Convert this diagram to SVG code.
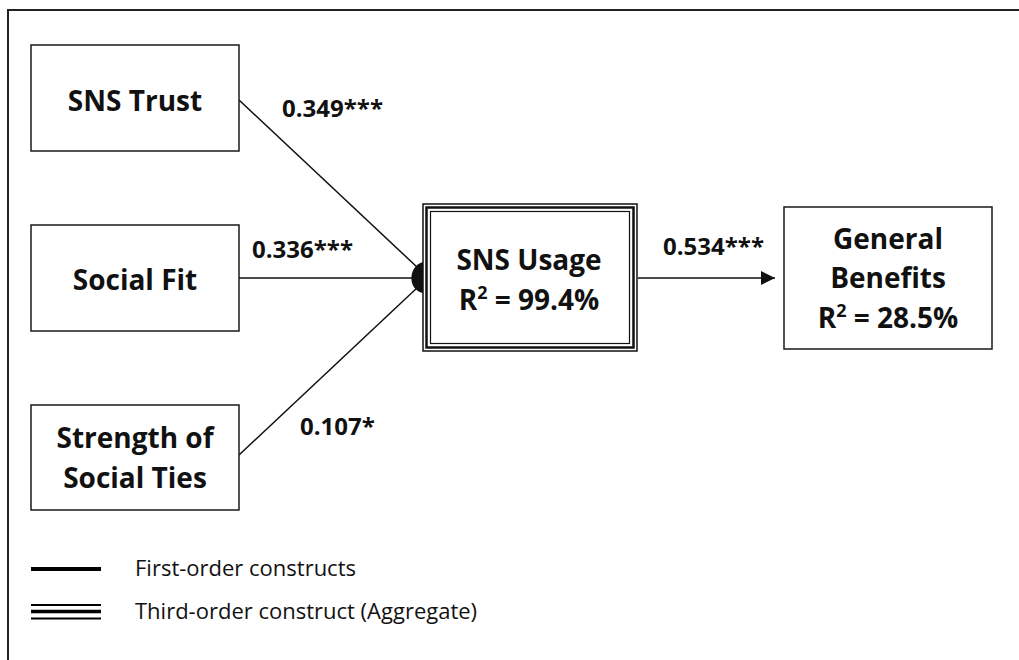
<svg xmlns="http://www.w3.org/2000/svg" width="1019" height="660" viewBox="0 0 1019 660">
<defs>
<style>
.box{fill:#fff;stroke:#1a1a1a;stroke-width:1.5}
.nt{font-family:"Open Sans","Liberation Sans",sans-serif;font-weight:bold;font-size:28px;fill:#111;text-anchor:middle}
.cf{font-family:"Open Sans","Liberation Sans",sans-serif;font-weight:bold;font-size:24px;fill:#111}
.lg{font-family:"Open Sans","Liberation Sans",sans-serif;font-size:22px;fill:#111}
.ln{stroke:#111;stroke-width:1.5;fill:none}
</style>
<marker id="arr" viewBox="0 0 10 10" refX="10" refY="5" markerWidth="14" markerHeight="14" markerUnits="userSpaceOnUse" orient="auto">
<path d="M0,0 L10,5 L0,10 Z" fill="#111"/>
</marker>
</defs>
<rect width="1019" height="660" fill="#fff"/>
<path d="M8,660 L8,10 L1019,10" fill="none" stroke="#222" stroke-width="2"/>

<g id="connectors">
<line class="ln" x1="239" y1="100" x2="418" y2="268"/>
<line class="ln" x1="239" y1="278" x2="418" y2="278"/>
<line class="ln" x1="239" y1="455" x2="418" y2="287"/>
<path d="M423,262 C408,266 407,290 423,293 Z" fill="#111"/>
<line class="ln" x1="638" y1="278" x2="775" y2="278" marker-end="url(#arr)"/>
<text class="cf" x="282" y="117">0.349***</text>
<text class="cf" x="252" y="258">0.336***</text>
<text class="cf" x="300" y="435">0.107*</text>
<text class="cf" x="663" y="255">0.534***</text>
</g>

<g id="sns-trust">
<rect class="box" x="31" y="45" width="208" height="106"/>
<text class="nt" x="135" y="111">SNS Trust</text>
</g>
<g id="social-fit">
<rect class="box" x="31" y="225" width="208" height="106"/>
<text class="nt" x="135" y="290">Social Fit</text>
</g>
<g id="strength-ties">
<rect class="box" x="31" y="405" width="208" height="105"/>
<text class="nt" x="135" y="448">Strength of</text>
<text class="nt" x="135" y="488">Social Ties</text>
</g>
<g id="sns-usage">
<rect x="423" y="204" width="214" height="147" fill="#fff" stroke="#111" stroke-width="1.5"/>
<rect x="426.5" y="207.5" width="207" height="140" fill="none" stroke="#111" stroke-width="2.5"/>
<rect x="430.5" y="211.5" width="199" height="132" fill="none" stroke="#111" stroke-width="1.2"/>
<text class="nt" x="529" y="270">SNS Usage</text>
<text class="nt" x="529" y="310">R<tspan font-size="18" dy="-11">2</tspan><tspan dy="11"> = 99.4%</tspan></text>
</g>
<g id="general-benefits">
<rect class="box" x="784" y="207" width="208" height="142"/>
<text class="nt" x="888" y="249">General</text>
<text class="nt" x="888" y="288">Benefits</text>
<text class="nt" x="888" y="328">R<tspan font-size="18" dy="-11">2</tspan><tspan dy="11"> = 28.5%</tspan></text>
</g>

<g id="legend">
<line x1="31" y1="569" x2="101" y2="569" stroke="#000" stroke-width="4"/>
<text class="lg" x="135" y="576">First-order constructs</text>
<line x1="31" y1="605" x2="101" y2="605" stroke="#000" stroke-width="2"/>
<line x1="31" y1="611.5" x2="101" y2="611.5" stroke="#000" stroke-width="3.5"/>
<line x1="31" y1="618.5" x2="101" y2="618.5" stroke="#000" stroke-width="2"/>
<text class="lg" x="135" y="619">Third-order construct (Aggregate)</text>
</g>
</svg>
